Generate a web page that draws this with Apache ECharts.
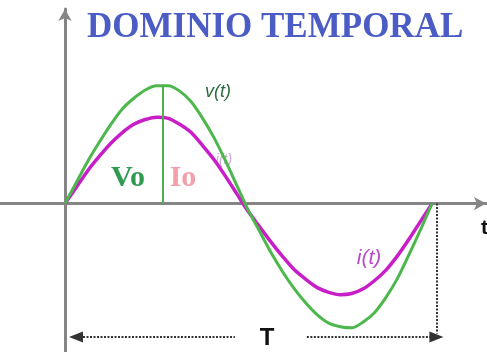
<!DOCTYPE html>
<html>
<head>
<meta charset="utf-8">
<script src="https://cdn.jsdelivr.net/npm/echarts@6/dist/echarts.min.js"></script>
<style>
  html, body { margin: 0; padding: 0; background: #ffffff; }
  #chart { width: 487px; height: 352px; }
</style>
</head>
<body>
<div id="chart"></div>
<script>
// Time axis expressed as a fraction of one period T (steps of T/32)
const timeSamples = [0, 0.03125, 0.0625, 0.09375, 0.125, 0.15625, 0.1875, 0.21875,
                     0.25, 0.28125, 0.3125, 0.34375, 0.375, 0.40625, 0.4375, 0.46875,
                     0.5, 0.53125, 0.5625, 0.59375, 0.625, 0.65625, 0.6875, 0.71875,
                     0.75, 0.78125, 0.8125, 0.84375, 0.875, 0.90625, 0.9375, 0.96875, 1];
// v(t), in units of the peak voltage Vo
const voltage = [0, 0.18, 0.36, 0.52, 0.67, 0.80, 0.89, 0.96,
                 0.995, 0.995, 0.95, 0.86, 0.72, 0.555, 0.36, 0.15,
                 -0.06, -0.24, -0.42, -0.58, -0.72, -0.84, -0.94, -1.01,
                 -1.04, -1.05, -1.0, -0.92, -0.79, -0.63, -0.43, -0.22, 0];
// i(t), on the same vertical scale
const current = [0, 0.14, 0.28, 0.40, 0.51, 0.60, 0.67, 0.71,
                 0.73, 0.72, 0.67, 0.60, 0.49, 0.37, 0.23, 0.08,
                 -0.07, -0.20, -0.33, -0.45, -0.56, -0.64, -0.71, -0.75,
                 -0.77, -0.76, -0.72, -0.65, -0.56, -0.44, -0.30, -0.15, 0];
// Peak of v(t): time and amplitude
const peakTime = 0.267;
const peakVoltage = 1.0;
// One period, from 0 to T
const periodStart = 0;
const periodEnd = 1;

const pairs = (xs, ys) => xs.map((x, i) => [x, ys[i]]);

const chart = echarts.init(document.getElementById('chart'), null, { renderer: 'canvas' });

const axisGray = '#858585';
const dotted = { color: '#333333', width: 2, type: [2, 1.5] };
const arrowY = -1.127;

chart.setOption({
  backgroundColor: '#ffffff',
  animation: false,
  grid: { left: 0, right: 1, top: 9, bottom: 0, containLabel: false },
  xAxis: {
    type: 'value',
    min: -0.1771,
    max: 1.1471,
    axisLine: {
      onZero: true,
      lineStyle: { color: axisGray, width: 3 },
      symbol: ['none', 'arrow'],
      symbolSize: [10, 12]
    },
    axisTick: { show: false },
    axisLabel: { show: false },
    splitLine: { show: false }
  },
  yAxis: {
    type: 'value',
    min: -1.254,
    max: 1.644,
    axisLine: {
      onZero: true,
      lineStyle: { color: axisGray, width: 3 },
      symbol: ['none', 'arrow'],
      symbolSize: [10, 12]
    },
    axisTick: { show: false },
    axisLabel: { show: false },
    splitLine: { show: false }
  },
  series: [
    {
      name: 'v(t)',
      type: 'line',
      smooth: 0.3,
      showSymbol: false,
      data: pairs(timeSamples, voltage),
      lineStyle: { color: '#4cb84c', width: 3 },
      z: 3,
      markLine: {
        silent: true,
        symbol: ['none', 'none'],
        label: { show: false },
        animation: false,
        data: [
          [
            { coord: [peakTime, 0], lineStyle: { color: '#4cb050', width: 2, type: 'solid' } },
            { coord: [peakTime, peakVoltage] }
          ],
          [
            { coord: [periodEnd + 0.012, 0], lineStyle: dotted },
            { coord: [periodEnd + 0.012, arrowY + 0.03] }
          ],
          [
            { coord: [periodStart + 0.03, arrowY], symbol: 'triangle', symbolSize: [11, 14], symbolRotate: 90, lineStyle: dotted },
            { coord: [0.463, arrowY], symbol: 'none' }
          ],
          [
            { coord: [0.659, arrowY], symbol: 'none', lineStyle: dotted },
            { coord: [periodEnd + 0.012, arrowY], symbol: 'triangle', symbolSize: [11, 14], symbolRotate: -90 }
          ]
        ],
        itemStyle: { color: '#111111' }
      }
    },
    {
      name: 'i(t)',
      type: 'line',
      smooth: 0.3,
      showSymbol: false,
      data: pairs(timeSamples, current),
      lineStyle: { color: '#c81ec8', width: 3.5 },
      z: 2
    }
  ],
  graphic: [
    {
      type: 'text', left: 87, top: 10,
      style: { text: 'DOMINIO TEMPORAL', fill: '#4b5cc4',
               font: 'bold 35px "Liberation Serif", "DejaVu Serif", serif' }
    },
    {
      type: 'text', x: 128, y: 178,
      style: { text: 'Vo', fill: '#2f9a50', align: 'center', verticalAlign: 'middle',
               font: 'bold 30px "Liberation Serif", serif' }
    },
    {
      type: 'text', x: 183, y: 178,
      style: { text: 'Io', fill: '#f2a0aa', align: 'center', verticalAlign: 'middle',
               font: 'bold 30px "Liberation Serif", serif' }
    },
    {
      type: 'text', x: 218, y: 92,
      style: { text: 'v(t)', fill: '#2d6b3a', align: 'center', verticalAlign: 'middle',
               font: 'italic 18px "Liberation Sans", sans-serif' }
    },
    {
      type: 'text', x: 224, y: 160,
      style: { text: 'i(t)', fill: '#c8a8d6', align: 'center', verticalAlign: 'middle',
               font: 'italic 14px "Liberation Sans", sans-serif' }
    },
    {
      type: 'text', x: 369, y: 258,
      style: { text: 'i(t)', fill: '#b84cc8', align: 'center', verticalAlign: 'middle',
               font: 'italic 21px "Liberation Sans", sans-serif' }
    },
    {
      type: 'text', x: 481, y: 228,
      style: { text: 't', fill: '#111111', align: 'left', verticalAlign: 'middle',
               font: 'bold 21px "Liberation Sans", sans-serif' }
    },
    {
      type: 'text', x: 267, y: 338,
      style: { text: 'T', fill: '#111111', align: 'center', verticalAlign: 'middle',
               font: 'bold 24px "Liberation Sans", sans-serif' }
    }
  ]
});
</script>
</body>
</html>
